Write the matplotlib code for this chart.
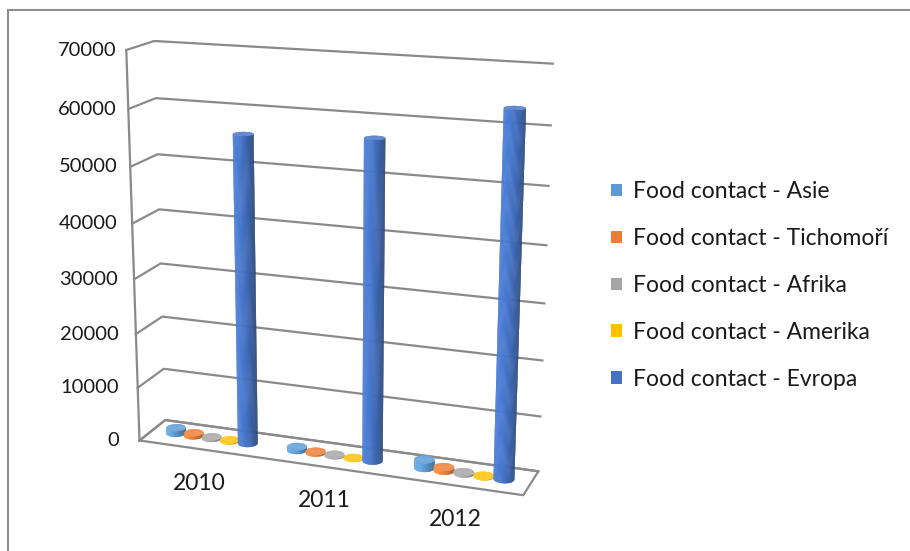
import numpy as np
import matplotlib.pyplot as plt
from matplotlib.patches import Patch, Rectangle
from matplotlib.colors import to_rgb
from matplotlib.transforms import offset_copy

plt.rcParams['font.family'] = ['Lato', 'DejaVu Sans']

years = ['2010', '2011', '2012']
labels = ['Food contact - Asie', 'Food contact - Tichomoří', 'Food contact - Afrika',
          'Food contact - Amerika', 'Food contact - Evropa']
asie = [1100, 700, 1600]
tichomori = [600, 300, 700]
afrika = [300, 200, 300]
amerika = [200, 100, 150]
evropa = [56000, 57000, 63500]
colors = ['#5B9BD5', '#ED7D31', '#A5A5A5', '#FFC000', '#4472C4']
z_ticks = list(range(0, 70001, 10000))

data = [asie, tichomori, afrika, amerika, evropa]
grid_col = '#8a8a8a'
txt_col = '#1a1a1a'
fs = 16.5

# physical size of the box (x = categories, y = depth, z = values)
box = (3.95, 0.6, 3.94)
x_lo, x_hi = -0.5, 2.5
z_max = 70000
w = 0.15                       # column width in category units
rx = w / 2
ry = rx * (box[0] / (x_hi - x_lo)) / box[1]
elev, azim = 16, -70

fig = plt.figure(figsize=(9.1, 5.51), dpi=100)
ax = fig.add_axes([0.019, -0.011, 0.68, 1.04], projection='3d', computed_zorder=False)
ax.set_box_aspect(box, zoom=1.0)
ax.set_proj_type('persp', focal_length=0.55)
ax.view_init(elev=elev, azim=azim)
ax.set_xlim(x_lo, x_hi)
ax.set_ylim(0, 1)
ax.set_zlim(0, z_max)
ax.set_axis_off()

# walls: gridlines on the left side wall and the back wall
for z in z_ticks:
    ax.plot([x_lo, x_lo, x_hi], [0, 1, 1], [z, z, z], color=grid_col, lw=1.6, zorder=1)
ax.plot([x_lo, x_lo], [0, 0], [0, z_max], color=grid_col, lw=1.6, zorder=1)
# floor outline
ax.plot([x_lo, x_hi, x_hi, x_lo, x_lo], [0, 0, 1, 1, 0], [0, 0, 0, 0, 0],
        color=grid_col, lw=1.6, zorder=1)

for z in z_ticks:
    dx = -10 - 10 * (1 - z / z_max)
    tr = offset_copy(ax.transData, fig=fig, x=dx, y=0, units='dots')
    ax.text(x_lo, 0, z, str(z), ha='right', va='center', fontsize=14.5,
            color=txt_col, transform=tr)
cat_tr = offset_copy(ax.transData, fig=fig, x=0, y=-34, units='dots')
for i, yr in enumerate(years):
    ax.text(i, 0, 0, yr, ha='center', va='center', fontsize=fs,
            color=txt_col, transform=cat_tr)

# cylinders: only the half of the side that faces the camera is drawn
cam = np.radians(azim)
theta = np.linspace(cam - np.pi / 2, cam + np.pi / 2, 31)
ring = np.linspace(0, 2 * np.pi, 73)
light = np.radians(-125)


def shade(color, t):
    base = np.array(to_rgb(color))
    d = np.cos(t - light)
    f = 0.8 + 0.3 * d
    return np.concatenate([np.clip(base * f, 0, 1), [1.0]])


def cylinder(xc, yc, h, color, zo):
    h = max(h, 1)
    T, Z = np.meshgrid(theta, [0, h])
    X = xc + rx * np.cos(T)
    Y = yc + ry * np.sin(T)
    mid = T + (theta[1] - theta[0]) / 2
    fc = np.array([[shade(color, t) for t in row] for row in mid])
    # drawn twice so the antialiased seams between facets disappear
    for k in range(2):
        ax.plot_surface(X, Y, Z, facecolors=fc, shade=False, linewidth=0,
                        antialiased=True, zorder=zo)
    R, T2 = np.meshgrid([0, 1], ring)
    top = np.clip(np.array(to_rgb(color)) * 0.88 + 0.12, 0, 1)
    for k in range(2):
        ax.plot_surface(xc + rx * R * np.cos(T2), yc + ry * R * np.sin(T2),
                        np.full_like(R, h, dtype=float), color=top, shade=False,
                        linewidth=0, antialiased=True, zorder=zo + 1)


zo = 2
for i in range(len(years)):
    for j, vals in enumerate(data):
        cylinder(i + (j - 2) * w, 0.5, vals[i], colors[j], zo)
        zo += 2

handles = [Patch(facecolor=c, edgecolor='none') for c in colors]
fig.legend(handles, labels, loc='center left', bbox_to_anchor=(0.649, 0.482),
           frameon=False, fontsize=fs, handlelength=0.45, handleheight=0.45,
           handletextpad=0.5, labelspacing=1.13, labelcolor=txt_col)

fig.patches.append(Rectangle((8 / 910, -0.1), 1.2, (541 / 551) + 0.1,
                             transform=fig.transFigure, fill=False,
                             edgecolor='#8c8c8c', lw=1.5))

fig.savefig('out.png', dpi=100)
